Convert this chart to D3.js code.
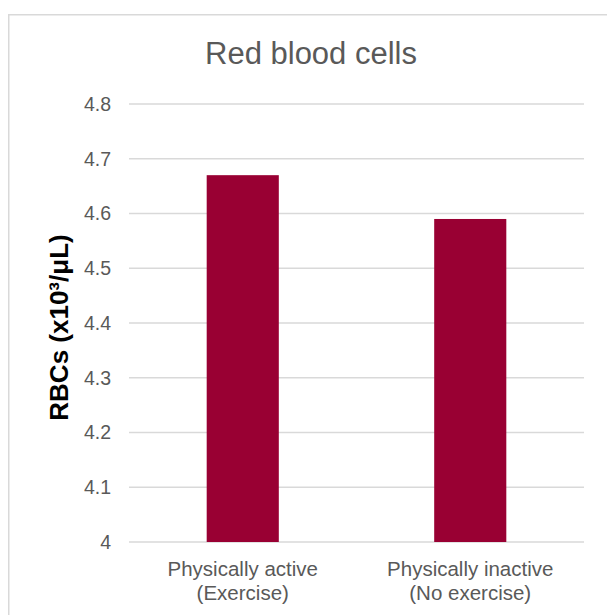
<!DOCTYPE html>
<html>
<head>
<meta charset="utf-8">
<script src="https://cdn.jsdelivr.net/npm/d3@7"></script>
<style>
  html, body { margin: 0; padding: 0; background: #fff; }
  svg { display: block; font-family: "Liberation Sans", Arial, sans-serif; }
</style>
</head>
<body>
<div id="chart"></div>
<script>
const categories = [["Physically active", "(Exercise)"], ["Physically inactive", "(No exercise)"]];
const values = [4.67, 4.59];
const yTicks = [4, 4.1, 4.2, 4.3, 4.4, 4.5, 4.6, 4.7, 4.8];
const title = "Red blood cells";
const yTitle = "RBCs (x10³/μL)";

const W = 607, H = 615;
const plot = { left: 129, right: 584, top: 104, bottom: 542 };
const textColor = "#595959", gridColor = "#d9d9d9", barColor = "#990033";

const svg = d3.select("#chart").append("svg").attr("width", W).attr("height", H);

svg.append("rect")
  .attr("x", 8.75).attr("y", 14.75).attr("width", 606).attr("height", 620)
  .attr("fill", "#fff").attr("stroke", gridColor).attr("stroke-width", 1.5);

const x = d3.scaleBand()
  .domain(categories.map((d, i) => i))
  .range([plot.left, plot.right])
  .paddingInner(0.683).paddingOuter(0.3415);

const y = d3.scaleLinear().domain([4, 4.8]).range([plot.bottom, plot.top]);

// gridlines
svg.append("g").selectAll("line").data(yTicks).join("line")
  .attr("x1", plot.left).attr("x2", plot.right)
  .attr("y1", d => y(d)).attr("y2", d => y(d))
  .attr("stroke", gridColor).attr("stroke-width", 1.3);

// y axis labels
const yAxis = d3.axisLeft(y).tickValues(yTicks).tickSize(0).tickPadding(0)
  .tickFormat(d => d3.format("")(+d.toFixed(1)));
const gy = svg.append("g").attr("transform", `translate(111,0)`).call(yAxis);
gy.select(".domain").remove();
gy.selectAll("text").attr("fill", textColor).style("font-size", "19.5px")
  .style("font-family", '"Liberation Sans", Arial, sans-serif');

// bars
svg.append("g").selectAll("rect").data(values).join("rect")
  .attr("x", (d, i) => x(i)).attr("width", x.bandwidth())
  .attr("y", d => y(d)).attr("height", d => y(4) - y(d))
  .attr("fill", barColor);

// category labels
const cat = svg.append("g").selectAll("text").data(categories).join("text")
  .attr("x", (d, i) => x(i) + x.bandwidth() / 2)
  .attr("y", 576)
  .attr("text-anchor", "middle")
  .attr("fill", textColor).style("font-size", "20.5px");
cat.selectAll("tspan").data(d => d).join("tspan")
  .attr("x", function() { return d3.select(this.parentNode).attr("x"); })
  .attr("dy", (d, i) => i === 0 ? 0 : 24)
  .text(d => d);

// title
svg.append("text").attr("x", 311).attr("y", 64).attr("text-anchor", "middle")
  .attr("fill", textColor).style("font-size", "31px").text(title);

// y title
svg.append("text")
  .attr("transform", "translate(68,327.5) rotate(-90)")
  .attr("text-anchor", "middle")
  .attr("fill", "#000").style("font-size", "26px").style("font-weight", "bold")
  .text(yTitle);
</script>
</body>
</html>
